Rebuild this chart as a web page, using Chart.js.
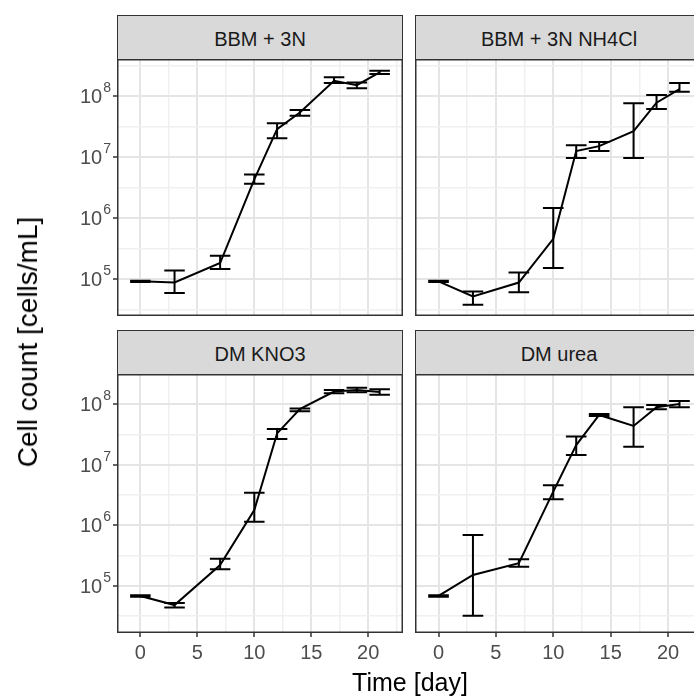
<!DOCTYPE html>
<html>
<head>
<meta charset="utf-8">
<script src="https://cdn.jsdelivr.net/npm/chart.js@4.4.1/dist/chart.umd.min.js"></script>
<style>
  html, body { margin: 0; padding: 0; background: #fff; overflow: hidden; }
  #wrap { position: relative; width: 694px; height: 698px; overflow: hidden; background: #fff;
          font-family: "Liberation Sans", Arial, sans-serif; }
  canvas { position: absolute; }
  .strip { position: absolute; box-sizing: border-box; background: #D9D9D9; border: 1.5px solid #333;
           color: #1A1A1A; font-size: 20px; text-align: center; line-height: 46px; white-space: nowrap; }
  .title { position: absolute; color: #000; white-space: nowrap; }
</style>
</head>
<body>
<div id="wrap">
  <div class="strip" id="s0" style="left:117px; top:15px; width:286px; height:45px;"></div>
  <div class="strip" id="s1" style="left:415px; top:15px; width:288px; height:45px;"></div>
  <div class="strip" id="s2" style="left:117px; top:330px; width:286px; height:45px;"></div>
  <div class="strip" id="s3" style="left:415px; top:330px; width:288px; height:45px;"></div>
  <canvas id="c0" width="403" height="257" style="left:0px; top:59px;"></canvas>
  <canvas id="c1" width="288" height="257" style="left:415px; top:59px;"></canvas>
  <canvas id="c2" width="403" height="296" style="left:0px; top:374px;"></canvas>
  <canvas id="c3" width="288" height="296" style="left:415px; top:374px;"></canvas>
  <div class="title" id="xt" style="left:410px; top:668px; font-size:25px; transform:translateX(-50%);"></div>
  <div class="title" id="yt" style="left:28px; top:342px; font-size:28px; transform:translate(-50%,-50%) rotate(-90deg);"></div>
</div>
<script>
// ---- data ----
const days = [0, 3, 7, 10, 12, 14, 17, 19, 21];
const panelTitles = ["BBM + 3N", "BBM + 3N NH4Cl", "DM KNO3", "DM urea"];
const xTitle = "Time [day]";
const yTitle = "Cell count [cells/mL]";
const xTickValues = [0, 5, 10, 15, 20];
const yTickExponents = [5, 6, 7, 8];

const bbmMean = [9.2e4, 8.8e4, 1.84e5, 4.35e6, 2.9e7, 5.45e7, 1.81e8, 1.53e8, 2.48e8];
const bbmLo   = [9.0e4, 5.9e4, 1.47e5, 3.69e6, 2.06e7, 4.8e7, 1.66e8, 1.37e8, 2.33e8];
const bbmHi   = [9.4e4, 1.39e5, 2.43e5, 5.25e6, 3.63e7, 6.0e7, 2.06e8, 1.70e8, 2.64e8];

const nh4Mean = [9.2e4, 5.2e4, 8.8e4, 4.6e5, 1.27e7, 1.53e7, 2.7e7, 7.9e7, 1.32e8];
const nh4Lo   = [9.0e4, 3.8e4, 6.1e4, 1.52e5, 9.8e6, 1.27e7, 9.8e6, 6.2e7, 1.19e8];
const nh4Hi   = [9.4e4, 6.3e4, 1.29e5, 1.48e6, 1.58e7, 1.78e7, 7.7e7, 1.06e8, 1.66e8];

const kno3Mean = [6.8e4, 4.8e4, 2.2e5, 1.79e6, 3.3e7, 8.3e7, 1.62e8, 1.72e8, 1.60e8];
const kno3Lo   = [6.6e4, 4.4e4, 1.88e5, 1.14e6, 2.67e7, 7.7e7, 1.52e8, 1.58e8, 1.43e8];
const kno3Hi   = [7.0e4, 5.2e4, 2.8e5, 3.46e6, 3.9e7, 8.5e7, 1.72e8, 1.88e8, 1.77e8];

const ureaMean = [6.8e4, 1.51e5, 2.36e5, 3.6e6, 2.12e7, 6.66e7, 4.38e7, 8.9e7, 1.01e8];
const ureaLo   = [6.6e4, 3.2e4, 2.07e5, 2.69e6, 1.45e7, 6.4e7, 1.99e7, 8.3e7, 8.9e7];
const ureaHi   = [7.0e4, 6.9e5, 2.74e5, 4.6e6, 2.92e7, 6.9e7, 8.9e7, 9.7e7, 1.13e8];

// ---- helpers ----
const FONT = '"Liberation Sans", Arial, sans-serif';
function isMajorLog(v) { const l = Math.log10(v); return Math.abs(l - Math.round(l)) < 1e-6; }
function isMajorX(v) { return xTickValues.includes(v); }

const errorBarPlugin = {
  id: 'errbars',
  afterDatasetsDraw(chart) {
    const eb = chart.options.plugins.errbars;
    const xs = chart.scales.x, ys = chart.scales.y, ctx = chart.ctx, a = chart.chartArea;
    ctx.save();
    ctx.beginPath(); ctx.rect(a.left, a.top, a.right - a.left, a.bottom - a.top); ctx.clip();
    ctx.strokeStyle = '#000'; ctx.lineWidth = 2; ctx.lineCap = 'butt';
    days.forEach((d, i) => {
      const px = xs.getPixelForValue(d);
      const x0 = xs.getPixelForValue(d - 0.9), x1 = xs.getPixelForValue(d + 0.9);
      const yl = ys.getPixelForValue(eb.lo[i]), yh = ys.getPixelForValue(eb.hi[i]);
      ctx.beginPath();
      ctx.moveTo(px, yl); ctx.lineTo(px, yh);
      ctx.moveTo(x0, yl); ctx.lineTo(x1, yl);
      ctx.moveTo(x0, yh); ctx.lineTo(x1, yh);
      ctx.stroke();
    });
    ctx.restore();
  },
  afterDraw(chart) {
    const a = chart.chartArea, ctx = chart.ctx;
    ctx.save();
    ctx.strokeStyle = '#333'; ctx.lineWidth = 1.5;
    ctx.strokeRect(a.left + 0.75, a.top + 0.75, a.right - a.left - 1.5, a.bottom - a.top - 1.5);
    // y tick labels as 10 with raised exponent
    if (chart.options.plugins.errbars.showY) {
      const ys = chart.scales.y;
      const right = a.left - 6;
      ctx.fillStyle = '#4D4D4D';
      ctx.textBaseline = 'alphabetic';
      yTickExponents.forEach(e => {
        const y = ys.getPixelForValue(Math.pow(10, e));
        const exp = String(e);
        ctx.font = '14px ' + FONT;
        const we = ctx.measureText(exp).width;
        ctx.textAlign = 'left';
        ctx.fillText(exp, right - we, y - 4);
        ctx.font = '20px ' + FONT;
        ctx.textAlign = 'right';
        ctx.fillText('10', right - we - 1, y + 7);
      });
    }
    ctx.restore();
  }
};

function makePanel(id, mean, lo, hi, o) {
  const xTicks = [];
  for (let v = 0; v <= 22.5; v += 2.5) xTicks.push(v);
  const yTicks = [];
  for (let e = 4.5; e <= 8.5; e += 0.5) {
    if (e >= o.yMinExp && e <= o.yMaxExp) yTicks.push(Math.pow(10, e));
  }
  return new Chart(document.getElementById(id), {
    type: 'line',
    data: {
      datasets: [{
        data: days.map((d, i) => ({ x: d, y: mean[i] })),
        borderColor: '#000', borderWidth: 2, pointRadius: 0, tension: 0, fill: false
      }]
    },
    options: {
      responsive: false, animation: false, devicePixelRatio: 1,
      layout: { padding: 0, autoPadding: false },
      plugins: { legend: { display: false }, tooltip: { enabled: false },
                 errbars: { lo: lo, hi: hi, showY: o.showY } },
      scales: {
        x: {
          type: 'linear', min: -2.05, max: 23.05,
          afterBuildTicks: (s) => { s.ticks = xTicks.map(v => ({ value: v })); },
          afterFit: (s) => { s.height = o.showX ? 37 : 0; s.paddingLeft = 0; s.paddingRight = 0; s.paddingTop = 0; s.paddingBottom = 0; },
          border: { display: false },
          grid: {
            color: (c) => isMajorX(c.tick.value) ? '#E5E5E5' : '#F0F0F0',
            lineWidth: (c) => isMajorX(c.tick.value) ? 2 : 1.5,
            drawTicks: o.showX, tickLength: 4,
            tickColor: (c) => isMajorX(c.tick.value) ? '#333' : 'rgba(0,0,0,0)',
            tickWidth: 1.5
          },
          ticks: {
            display: o.showX, autoSkip: false, maxRotation: 0, padding: 4,
            color: '#4D4D4D', font: { family: FONT, size: 20 },
            callback: (v) => isMajorX(v) ? String(v) : ''
          }
        },
        y: {
          type: 'logarithmic', min: Math.pow(10, o.yMinExp), max: Math.pow(10, o.yMaxExp),
          afterBuildTicks: (s) => { s.ticks = yTicks.map(v => ({ value: v })); },
          afterFit: (s) => { s.width = o.showY ? 117 : 0; s.paddingLeft = 0; s.paddingRight = 0; s.paddingTop = 0; s.paddingBottom = 0; },
          border: { display: false },
          grid: {
            color: (c) => isMajorLog(c.tick.value) ? '#E5E5E5' : '#F0F0F0',
            lineWidth: (c) => isMajorLog(c.tick.value) ? 2 : 1.5,
            drawTicks: o.showY, tickLength: 4,
            tickColor: (c) => isMajorLog(c.tick.value) ? '#333' : 'rgba(0,0,0,0)',
            tickWidth: 1.5
          },
          ticks: { display: false, autoSkip: false }
        }
      }
    },
    plugins: [errorBarPlugin]
  });
}

['s0','s1','s2','s3'].forEach((id, i) => { document.getElementById(id).textContent = panelTitles[i]; });
document.getElementById('xt').textContent = xTitle;
document.getElementById('yt').textContent = yTitle;

const topRow = { yMinExp: 4.395, yMaxExp: 8.615 };
const botRow = { yMinExp: 4.22, yMaxExp: 8.50 };
makePanel('c0', bbmMean, bbmLo, bbmHi, Object.assign({ showX: false, showY: true }, topRow));
makePanel('c1', nh4Mean, nh4Lo, nh4Hi, Object.assign({ showX: false, showY: false }, topRow));
makePanel('c2', kno3Mean, kno3Lo, kno3Hi, Object.assign({ showX: true, showY: true }, botRow));
makePanel('c3', ureaMean, ureaLo, ureaHi, Object.assign({ showX: true, showY: false }, botRow));
</script>
</body>
</html>
